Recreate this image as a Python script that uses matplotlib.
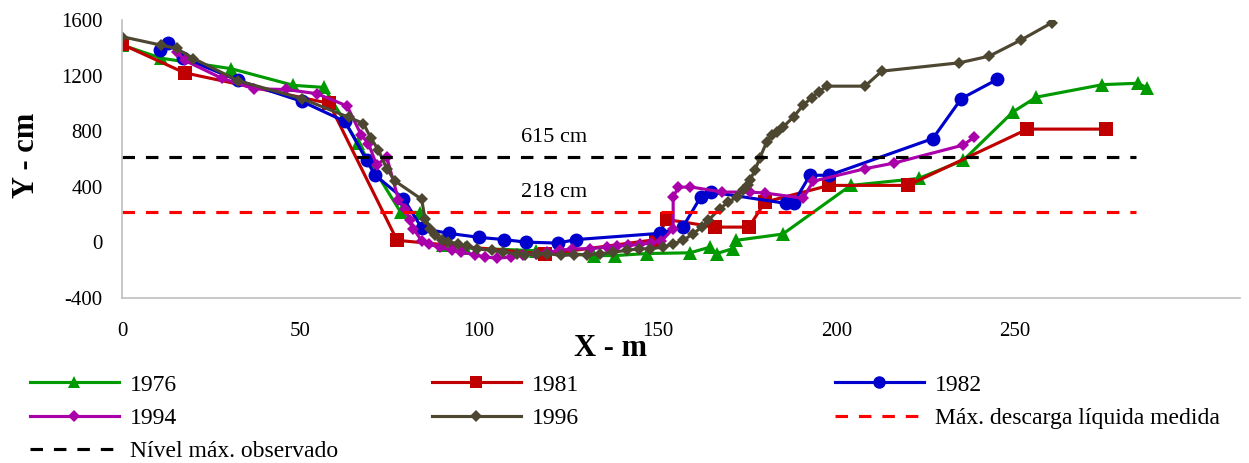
"""Cross-section profiles (1976-1996) with observed water levels."""

import matplotlib
matplotlib.use("Agg")
import matplotlib.pyplot as plt
from matplotlib.lines import Line2D

plt.rcParams["font.family"] = "serif"
plt.rcParams["font.serif"] = ["Liberation Serif", "DejaVu Serif"]
plt.rcParams["font.size"] = 15
plt.rcParams["axes.unicode_minus"] = False

# --- data ------------------------------------------------------------------
x1976 = [0, 11, 30.5, 48, 56.5, 66, 78, 83.5, 90, 96, 116, 132, 138, 147, 159,
         164.5, 166.5, 171, 172, 185, 204, 223, 235.5, 249.5, 256, 274.5, 284.5, 287]
y1976 = [1420, 1325, 1250, 1130, 1115, 715, 218, 215, -20, -40, -60, -95, -95, -80, -75,
         -35, -80, -45, 15, 60, 410, 460, 590, 940, 1045, 1135, 1145, 1110]

x1981 = [0, 17.5, 58, 77, 118.5, 149.5, 152.5, 166, 175.5, 180, 198, 220, 253.5, 275.5]
y1981 = [1425, 1220, 1000, 15, -85, 20, 165, 110, 110, 290, 410, 410, 815, 815]

x1982 = [10.5, 13, 17, 32.5, 50.3, 62.4, 68.5, 70.8, 78.8, 84, 91.5, 100, 107, 113, 122,
         127, 150.5, 157, 162, 165, 186, 188, 192.6, 198, 227, 235, 245]
y1982 = [1385, 1435, 1330, 1165, 1015, 870, 590, 485, 315, 100, 65, 36, 20, 2, -5,
         20, 65, 110, 326, 362, 280, 283, 483, 483, 747, 1035, 1172]

x1994 = [15.5, 17.5, 28, 37, 46, 54.5, 63, 67, 69, 71.3, 74.1, 77.4, 79.2, 80.6, 81.6,
         83.9, 86, 89, 92.3, 95, 98.8, 101.6, 105, 109, 112.3, 116, 119, 122.6, 126,
         131, 135.7, 138.5, 141.7, 145, 148, 151, 154.3, 154.3, 155.7, 159, 168, 175.8,
         180, 190.7, 193.5, 208, 216, 235.5, 238.5]
y1994 = [1370, 1310, 1180, 1105, 1100, 1070, 982, 771, 711, 555, 615, 307, 243, 158, 99,
         10, -15, -34, -58, -70, -89, -106, -113, -106, -89, -82, -70, -58, -46,
         -46, -34, -27, -22, -15, -5, 10, 99, 326, 395, 400, 362, 362,
         355, 318, 440, 530, 570, 700, 755]

x1996 = [0, 10.8, 15.3, 20, 32.6, 50.3, 63.5, 67.6, 69.6, 71.8, 74.1, 76.4, 83.9, 84.8,
         86.2, 87.6, 89.5, 91.4, 94.2, 96.5, 99.3, 103.5, 106.7, 110.5, 112.8, 116.1,
         118.9, 123, 126.4, 130.1, 133.8, 137.5, 141.3, 144.6, 147.8, 151.5, 154.3,
         157.1, 159.9, 162.3, 164.1, 167.4, 169.7, 172.1, 173.9, 175.3, 175.8, 177.2,
         178.6, 180.5, 181.9, 183.3, 185.1, 188, 190.7, 193.1, 195, 197.3, 208, 212.7,
         234.4, 242.8, 251.6, 260.3]
y1996 = [1480, 1420, 1395, 1323, 1162, 1035, 900, 855, 754, 663, 531, 442, 310, 171,
         99, 50, 14, 2, -9, -27, -46, -58, -70, -82, -89, -82,
         -80, -94, -89, -89, -82, -70, -58, -46, -46, -34, -10,
         14, 63, 110, 158, 243, 290, 326, 375, 411, 447, 519,
         610, 723, 771, 795, 831, 903, 987, 1042, 1083, 1124, 1124, 1232,
         1292, 1340, 1455, 1580]

level_x = [0, 284]
level_obs = 615   # Nível máx. observado
level_desc = 218  # Máx. descarga líquida medida

x_ticks = [0, 50, 100, 150, 200, 250]
y_ticks = [-400, 0, 400, 800, 1200, 1600]

SERIES = [
    ("1976", x1976, y1976, "#009A00", "^", 10),
    ("1981", x1981, y1981, "#C00000", "s", 9.5),
    ("1982", x1982, y1982, "#0000CC", "o", 10),
    ("1994", x1994, y1994, "#AA00AA", "D", 6.5),
    ("1996", x1996, y1996, "#4D4630", "D", 6.5),
]
DASH = (0, (4, 3.5))


def main() -> None:
    fig = plt.figure(figsize=(12.49, 4.63), dpi=100)
    ax = fig.add_axes([0.0977, 0.3564, 0.8951, 0.6004])

    handles = {}
    for label, xs, ys, color, marker, ms in SERIES:
        ax.plot(xs, ys, color=color, lw=2.25, marker=marker, ms=ms,
                markeredgewidth=0, solid_joinstyle="round")
        handles[label] = Line2D([], [], color=color, lw=2.25, marker=marker,
                                ms=ms * 0.9, markeredgewidth=0)

    ax.plot(level_x, [level_desc] * 2, color="#FF0000", lw=2.25, ls=DASH)
    ax.plot(level_x, [level_obs] * 2, color="black", lw=2.25, ls=DASH)
    handles["desc"] = Line2D([], [], color="#FF0000", lw=2.25, ls=DASH)
    handles["obs"] = Line2D([], [], color="black", lw=2.25, ls=DASH)

    ax.annotate(f"{level_obs} cm", xy=(121, level_obs), xytext=(0, 14),
                textcoords="offset points", ha="center", va="center", fontsize=16)
    ax.annotate(f"{level_desc} cm", xy=(121, level_desc), xytext=(0, 14),
                textcoords="offset points", ha="center", va="center", fontsize=16)

    ax.set_xlim(0, 313)
    ax.set_ylim(-400, 1600)
    ax.set_xticks(x_ticks)
    ax.set_yticks(y_ticks)
    ax.tick_params(axis="both", length=0)
    ax.tick_params(axis="y", pad=14)
    ax.tick_params(axis="x", pad=17)
    for side in ("top", "right"):
        ax.spines[side].set_visible(False)
    for side in ("left", "bottom"):
        ax.spines[side].set_color("#BFBFBF")
        ax.spines[side].set_linewidth(1.2)

    fig.text(27 / 1249, 1 - 155 / 463, "Y - cm", rotation=90, ha="center",
             va="center", fontsize=22, fontweight="bold")
    fig.text(610 / 1249, 1 - 348 / 463, "X - m", ha="center", va="center",
             fontsize=22, fontweight="bold")

    columns = [
        (30, [("1976", "1976"), ("1994", "1994"), ("obs", "Nível máx. observado")]),
        (432, [("1981", "1981"), ("1996", "1996")]),
        (835, [("1982", "1982"), ("desc", "Máx. descarga líquida medida")]),
    ]
    for x_px, entries in columns:
        fig.legend([handles[k] for k, _ in entries], [t for _, t in entries],
                   loc="upper left", bbox_to_anchor=(x_px / 1249, 1 - 374 / 463),
                   frameon=False, borderpad=0, borderaxespad=0, fontsize=17,
                   handlelength=3.75, handletextpad=0.5, labelspacing=0.5)

    fig.savefig("out.png", dpi=100)
    plt.close(fig)


if __name__ == "__main__":
    main()
